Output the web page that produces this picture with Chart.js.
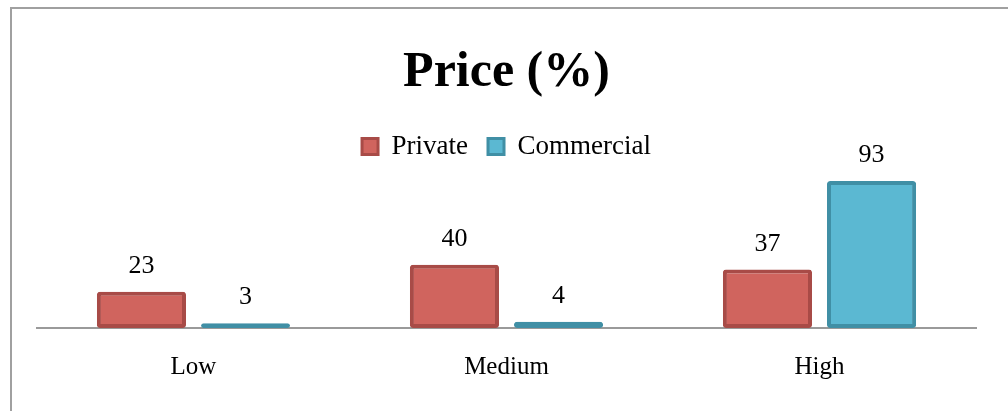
<!DOCTYPE html>
<html>
<head>
<meta charset="utf-8">
<script src="https://cdn.jsdelivr.net/npm/chart.js@4/dist/chart.umd.min.js"></script>
<style>
  html,body{margin:0;padding:0;background:#fff;}
  #wrap{width:1008px;height:411px;position:relative;}
</style>
</head>
<body>
<div id="wrap"><canvas id="barchart"></canvas></div>
<script>
var categories=['Low','Medium','High'];
var privateVals=[23,40,37];
var commercialVals=[3,4,93];
var seriesNames=['Private','Commercial'];

var serif="'Liberation Serif', 'Times New Roman', serif";

// gray frame on the top and left edge
var framePlugin={
  id:'frame',
  beforeDraw:function(c){
    var ctx=c.ctx;
    ctx.save();
    ctx.strokeStyle='#a0a0a0';
    ctx.lineWidth=2;
    ctx.beginPath();
    ctx.moveTo(11,c.height);
    ctx.lineTo(11,8);
    ctx.lineTo(c.width,8);
    ctx.stroke();
    ctx.restore();
  }
};

// value above each bar
var valuePlugin={
  id:'values',
  afterDatasetsDraw:function(c){
    var ctx=c.ctx;
    ctx.save();
    ctx.font='26px '+serif;
    ctx.fillStyle='#000';
    ctx.textAlign='center';
    ctx.textBaseline='alphabetic';
    c.data.datasets.forEach(function(ds,i){
      c.getDatasetMeta(i).data.forEach(function(bar,j){
        ctx.fillText(ds.data[j],bar.x,bar.y-19);
      });
    });
    ctx.restore();
  }
};

var chart=new Chart(document.getElementById('barchart'),{
  type:'bar',
  data:{
    labels:categories,
    datasets:[{
      label:seriesNames[0],
      data:privateVals,
      backgroundColor:'#d0645e',
      borderColor:'#a84b47',
      borderWidth:4,
      borderRadius:3,
      borderSkipped:false
    },{
      label:seriesNames[1],
      data:commercialVals,
      backgroundColor:'#5bb8d2',
      borderColor:'#408fa5',
      borderWidth:4,
      borderRadius:3,
      borderSkipped:false
    }]
  },
  options:{
    responsive:true,
    maintainAspectRatio:false,
    animation:false,
    categoryPercentage:0.665,
    barPercentage:0.856,
    layout:{padding:{left:37,right:32,top:0,bottom:5}},
    plugins:{
      title:{
        display:true,
        text:'Price (%)',
        color:'#000',
        font:{family:serif,size:50,weight:'bold'},
        padding:{top:43,bottom:10}
      },
      legend:{
        display:true,
        labels:{
          color:'#000',
          font:{family:serif,size:27},
          boxWidth:16,
          boxHeight:16,
          padding:20,
          generateLabels:function(c){
            return c.data.datasets.map(function(ds,i){
              return {text:ds.label,fillStyle:ds.backgroundColor,strokeStyle:ds.borderColor,lineWidth:3,datasetIndex:i,fontColor:'#000'};
            });
          }
        }
      },
      tooltip:{enabled:false}
    },
    scales:{
      x:{
        grid:{display:false,drawTicks:false},
        border:{display:true,color:'#9a9a9a',width:2},
        ticks:{color:'#000',font:{family:serif,size:25},padding:24}
      },
      y:{
        display:false,
        min:0,
        max:100
      }
    }
  },
  plugins:[framePlugin,valuePlugin]
});
</script>
</body>
</html>
